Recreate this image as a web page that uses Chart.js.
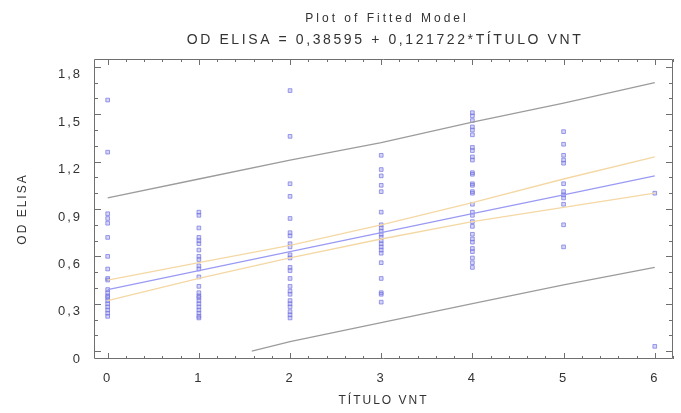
<!DOCTYPE html>
<html>
<head>
<meta charset="utf-8">
<script src="https://cdn.jsdelivr.net/npm/chart.js@4.4.1/dist/chart.umd.min.js"></script>
<style>
  html, body { margin: 0; padding: 0; background: #fff; }
  #wrap { width: 681px; height: 413px; }
</style>
</head>
<body>
<div id="wrap"><canvas id="fitChart" width="681" height="413"></canvas></div>
<script>
// TÍTULO VNT groups and the OD ELISA readings observed in each
const tituloVnt = [0, 1, 2, 3, 4, 5, 6];
const od0 = [1.59, 1.26, 0.87, 0.84, 0.81, 0.72, 0.60, 0.52, 0.46, 0.45, 0.39, 0.37, 0.35, 0.34, 0.32, 0.30, 0.28, 0.26, 0.24, 0.22];
const od1 = [0.88, 0.86, 0.78, 0.72, 0.70, 0.68, 0.64, 0.60, 0.58, 0.54, 0.52, 0.47, 0.41, 0.37, 0.35, 0.34, 0.32, 0.30, 0.28, 0.26, 0.24, 0.22, 0.21];
const od2 = [1.65, 1.36, 1.06, 0.98, 0.84, 0.75, 0.73, 0.68, 0.66, 0.61, 0.59, 0.53, 0.51, 0.46, 0.41, 0.38, 0.36, 0.32, 0.30, 0.28, 0.25, 0.23, 0.21];
const od3 = [1.24, 1.15, 1.11, 1.05, 1.01, 0.88, 0.80, 0.78, 0.76, 0.74, 0.72, 0.70, 0.68, 0.66, 0.64, 0.62, 0.56, 0.46, 0.37, 0.36, 0.31];
const od4 = [1.51, 1.49, 1.46, 1.42, 1.40, 1.37, 1.29, 1.27, 1.23, 1.21, 1.13, 1.12, 1.06, 1.05, 1.01, 1.00, 0.93, 0.88, 0.86, 0.82, 0.79, 0.74, 0.71, 0.69, 0.65, 0.63, 0.59, 0.56, 0.53];
const od5 = [1.39, 1.31, 1.24, 1.21, 1.19, 1.06, 1.01, 0.99, 0.97, 0.93, 0.80, 0.66];
const od6 = [1.00, 0.03];
const odGroups = [od0, od1, od2, od3, od4, od5, od6];

// fitted line, 95% confidence and prediction limits read at each TÍTULO VNT
const fitLine = [0.39, 0.51, 0.63, 0.75, 0.87, 0.99, 1.11];
const confUpper = [0.45, 0.56, 0.67, 0.80, 0.94, 1.09, 1.23];
const confLower = [0.32, 0.46, 0.59, 0.71, 0.82, 0.91, 1.00];
const predUpper = [0.97, 1.09, 1.21, 1.32, 1.45, 1.57, 1.70];
const predLowerX = [1.58, 2, 3, 4, 5, 6];
const predLower = [0.0, 0.06, 0.18, 0.30, 0.42, 0.53];

const yTicks = [0, 0.3, 0.6, 0.9, 1.2, 1.5, 1.8];

const FONT = "'Liberation Sans', Arial, sans-serif";
const TEXT = '#333333';
const FRAME = '#6f6f6f';

const toPoints = (xs, ys) => xs.map((x, i) => ({ x: x, y: ys[i] }));
const observed = tituloVnt.flatMap((t, i) => odGroups[i].map(v => ({ x: t, y: v })));

const lineSet = (data, color) => ({
    data: data,
    showLine: true,
    borderColor: color,
    borderWidth: 1.3,
    pointRadius: 0,
    fill: false,
    tension: 0
});

// wide letter spacing like the original print
const spacing = {
    id: 'spacing',
    beforeUpdate(chart) { chart.ctx.letterSpacing = '2px'; },
    beforeDraw(chart) { chart.ctx.letterSpacing = '2px'; }
};

// box frame, inward major/minor ticks on all four sides, and the titles
const frameTicks = {
    id: 'frameTicks',
    afterDraw(chart) {
        const { ctx, chartArea: a } = chart;
        const xs = chart.scales.x;
        const ys = chart.scales.y;
        ctx.save();
        ctx.strokeStyle = FRAME;
        ctx.lineWidth = 1;
        ctx.beginPath();
        ctx.rect(Math.round(a.left) + 0.5, Math.round(a.top) + 0.5,
            Math.round(a.right - a.left) - 1, Math.round(a.bottom - a.top) - 1);
        for (let i = 0; i <= 31; i++) {
            const px = Math.round(xs.getPixelForValue(i / 5)) + 0.5;
            const len = i % 5 === 0 ? 6 : 3;
            ctx.moveTo(px, a.bottom); ctx.lineTo(px, a.bottom - len);
            ctx.moveTo(px, a.top); ctx.lineTo(px, a.top + len);
        }
        for (let i = 0; i <= 18; i++) {
            const py = Math.round(ys.getPixelForValue(i / 10)) + 0.5;
            const len = i % 3 === 0 ? 7 : 4;
            ctx.moveTo(a.left, py); ctx.lineTo(a.left + len, py);
            ctx.moveTo(a.right, py); ctx.lineTo(a.right - len, py);
        }
        ctx.stroke();

        ctx.fillStyle = TEXT;
        ctx.textAlign = 'center';
        ctx.textBaseline = 'middle';
        ctx.letterSpacing = '3px';
        ctx.font = '12px ' + FONT;
        ctx.fillText('Plot of Fitted Model', 387, 19);
        ctx.letterSpacing = '2.6px';
        ctx.font = '14px ' + FONT;
        ctx.fillText('OD ELISA = 0,38595 + 0,121722*TÍTULO VNT', 385, 40);
        ctx.restore();
    }
};

new Chart(document.getElementById('fitChart'), {
    type: 'scatter',
    data: {
        datasets: [
            lineSet(toPoints(tituloVnt, predUpper), '#9c9c9c'),
            lineSet(toPoints(predLowerX, predLower), '#9c9c9c'),
            lineSet(toPoints(tituloVnt, confUpper), '#f4d8a4'),
            lineSet(toPoints(tituloVnt, confLower), '#f4d8a4'),
            lineSet(toPoints(tituloVnt, fitLine), '#9a9af4'),
            {
                data: observed,
                pointStyle: 'rect',
                pointRadius: 2.6,
                borderWidth: 1,
                borderColor: 'rgba(115, 115, 225, 0.7)',
                backgroundColor: 'rgba(135, 135, 235, 0.35)'
            }
        ]
    },
    options: {
        responsive: false,
        animation: false,
        layout: { padding: { top: 59, right: 8, left: 0, bottom: 0 } },
        plugins: {
            legend: { display: false },
            tooltip: { enabled: false },
            title: { display: false }
        },
        scales: {
            x: {
                type: 'linear',
                min: -0.15,
                max: 6.2,
                afterFit: (scale) => { scale.height = 54; },
                afterBuildTicks: (scale) => { scale.ticks = tituloVnt.map(v => ({ value: v })); },
                grid: { display: false, drawTicks: false },
                border: { display: false },
                ticks: {
                    padding: 12,
                    color: TEXT,
                    font: { family: FONT, size: 13 },
                    callback: (v) => String(v)
                },
                title: {
                    display: true,
                    text: 'TÍTULO VNT',
                    color: TEXT,
                    font: { family: FONT, size: 12 },
                    padding: { top: 0, bottom: 5 }
                }
            },
            y: {
                type: 'linear',
                min: -0.05,
                max: 1.85,
                afterFit: (scale) => { scale.width = 94; },
                afterBuildTicks: (scale) => { scale.ticks = yTicks.map(v => ({ value: v })); },
                grid: { display: false, drawTicks: false },
                border: { display: false },
                ticks: {
                    padding: 12,
                    labelOffset: 8,
                    color: TEXT,
                    font: { family: FONT, size: 13 },
                    callback: (v) => v === 0 ? '0' : v.toFixed(1).replace('.', ',')
                },
                title: {
                    display: true,
                    text: 'OD ELISA',
                    color: TEXT,
                    font: { family: FONT, size: 12 },
                    padding: { top: 15, bottom: 0 }
                }
            }
        }
    },
    plugins: [spacing, frameTicks]
});
</script>
</body>
</html>
